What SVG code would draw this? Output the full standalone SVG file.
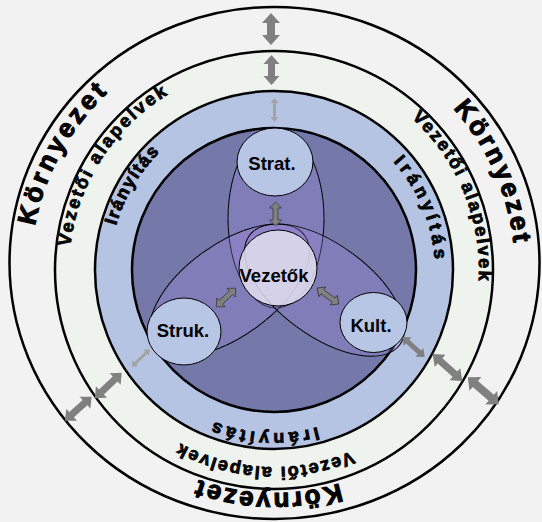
<svg xmlns="http://www.w3.org/2000/svg" width="542" height="522" viewBox="0 0 542 522">
<style>
.ring{stroke:#000;stroke-width:2.5}
.petal{fill:#a087dc;fill-opacity:0.3;stroke:#000;stroke-width:1}
.node{fill:#b8c6e6;stroke:#000;stroke-width:1}
.lead{fill:#e2dfee;fill-opacity:0.85;stroke:#000;stroke-width:1}
.lbl{font-family:"Liberation Sans",Arial,Helvetica,sans-serif;font-weight:bold;fill:#000}
.nt{font-size:18.5px;text-anchor:middle}
.env{font-size:26px;stroke:#000;stroke-width:1.1}
.pri{font-size:18px;stroke:#000;stroke-width:0.8}
.ctl{font-size:18px;stroke:#000;stroke-width:0.8}
.arr{fill:#808080}
.arrs{fill:#a3a3a3}
.arri{fill:#808080;stroke:#3a3a3a;stroke-width:0.8}
</style>
<defs>
<path id="pKl" d="M40.4,337 A243,243 0 0 1 207,36.4"/>
<path id="pKr" d="M360.8,45.1 A241,241 0 0 1 498.9,356.8"/>
<path id="pKb" d="M427.4,432.3 A223,223 0 0 1 112,423.1"/>
<path id="pVl" d="M73.5,312.6 A205,205 0 0 1 231.4,69.5"/>
<path id="pVr" d="M353.4,81 A205,205 0 0 1 463,349.4"/>
<path id="pVb" d="M406.1,416.2 A197,197 0 0 1 127.8,402.1"/>
<path id="pIl" d="M114.9,309.7 A164,164 0 0 1 234.3,110.9"/>
<path id="pIr" d="M336.1,121.5 A161,161 0 0 1 422.5,332.1"/>
<path id="pIb" d="M381.6,392.5 A163,163 0 0 1 151.5,377.6"/>
</defs>
<rect width="542" height="522" fill="#f2f2f2"/>
<g id="rings">
<ellipse id="ring-env" class="ring" cx="274.5" cy="263" rx="265" ry="256" fill="#f2f2f2"/>
<circle id="ring-principles" class="ring" cx="274" cy="270" r="219" fill="#eef3ed"/>
<circle id="ring-control" class="ring" cx="274" cy="270" r="179" fill="#b4c4e2"/>
<circle id="ring-core" class="ring" cx="274" cy="270" r="142" fill="#7479aa"/>
</g>
<g id="ring-labels" class="lbl">
<text class="env" letter-spacing="3.5"><textPath href="#pKl" startOffset="50%" text-anchor="middle">Környezet</textPath></text>
<text class="env" letter-spacing="3"><textPath href="#pKr" startOffset="50%" text-anchor="middle">Környezet</textPath></text>
<text class="env" letter-spacing="2.2"><textPath href="#pKb" startOffset="50%" text-anchor="middle">Környezet</textPath></text>
<text class="pri" letter-spacing="2.4"><textPath href="#pVl" startOffset="50%" text-anchor="middle">Vezetői alapelvek</textPath></text>
<text class="pri" letter-spacing="2.1"><textPath href="#pVr" startOffset="50%" text-anchor="middle">Vezetői alapelvek</textPath></text>
<text class="pri" letter-spacing="1.8"><textPath href="#pVb" startOffset="50%" text-anchor="middle">Vezetői alapelvek</textPath></text>
<text class="ctl" letter-spacing="1.5"><textPath href="#pIl" startOffset="50%" text-anchor="middle">Irányítás</textPath></text>
<text class="ctl" letter-spacing="4.2"><textPath href="#pIr" startOffset="50%" text-anchor="middle">Irányítás</textPath></text>
<text class="ctl" letter-spacing="3.9"><textPath href="#pIb" startOffset="50%" text-anchor="middle">Irányítás</textPath></text>
</g>
<g id="petals">
<ellipse class="petal" cx="276" cy="218.5" rx="48" ry="89.5"/>
<ellipse class="petal" cx="229.4" cy="290.1" rx="93" ry="46" transform="rotate(-36 229.4 290.1)"/>
<ellipse class="petal" cx="324.6" cy="290.1" rx="93" ry="46" transform="rotate(36 324.6 290.1)"/>
</g>
<g id="node-strat">
<ellipse class="node" cx="275" cy="162" rx="38" ry="34"/>
<text class="lbl nt" x="272" y="170">Strat.</text>
</g>
<g id="node-struk">
<ellipse class="node" cx="184" cy="331.5" rx="37" ry="33.5"/>
<text class="lbl nt" x="183" y="337">Struk.</text>
</g>
<g id="node-kult">
<ellipse class="node" cx="373.5" cy="322.5" rx="33.5" ry="30"/>
<text class="lbl nt" x="371" y="332">Kult.</text>
</g>
<g id="node-vezetok">
<ellipse class="lead" cx="278" cy="268" rx="39" ry="38"/>
<text class="lbl nt" x="274" y="282">Vezetők</text>
</g>
<g id="connectors">
<path class="arr" transform="translate(271,29) rotate(90)" d="M-16,0 L-6,-9 L-6,-4 L6,-4 L6,-9 L16,0 L6,9 L6,4 L-6,4 L-6,9Z"/>
<path class="arr" transform="translate(271.5,70) rotate(90)" d="M-15,0 L-6,-8 L-6,-3.5 L6,-3.5 L6,-8 L15,0 L6,8 L6,3.5 L-6,3.5 L-6,8Z"/>
<path class="arrs" transform="translate(274.5,110) rotate(90)" d="M-12,0 L-7,-4 L-7,-1.5 L7,-1.5 L7,-4 L12,0 L7,4 L7,1.5 L-7,1.5 L-7,4Z"/>
<path class="arr" transform="translate(413.5,347) rotate(42)" d="M-15,0 L-8,-6 L-8,-2.5 L8,-2.5 L8,-6 L15,0 L8,6 L8,2.5 L-8,2.5 L-8,6Z"/>
<path class="arr" transform="translate(447.5,367.5) rotate(42)" d="M-20,0 L-10,-8 L-10,-3.5 L10,-3.5 L10,-8 L20,0 L10,8 L10,3.5 L-10,3.5 L-10,8Z"/>
<path class="arr" transform="translate(483.3,390.8) rotate(41)" d="M-20.5,0 L-10.5,-9 L-10.5,-4 L10.5,-4 L10.5,-9 L20.5,0 L10.5,9 L10.5,4 L-10.5,4 L-10.5,9Z"/>
<path class="arrs" transform="translate(140.8,358) rotate(-43.6)" d="M-12.6,0 L-7.6,-4 L-7.6,-1.5 L7.6,-1.5 L7.6,-4 L12.6,0 L7.6,4 L7.6,1.5 L-7.6,1.5 L-7.6,4Z"/>
<path class="arr" transform="translate(108.3,385.5) rotate(-43.8)" d="M-18.5,0 L-9.5,-8 L-9.5,-3.5 L9.5,-3.5 L9.5,-8 L18.5,0 L9.5,8 L9.5,3.5 L-9.5,3.5 L-9.5,8Z"/>
<path class="arr" transform="translate(78.3,408.7) rotate(-42)" d="M-18,0 L-9,-8 L-9,-3.5 L9,-3.5 L9,-8 L18,0 L9,8 L9,3.5 L-9,3.5 L-9,8Z"/>
<path class="arri" transform="translate(275.5,214) rotate(90)" d="M-12,0 L-6,-6 L-6,-2.5 L6,-2.5 L6,-6 L12,0 L6,6 L6,2.5 L-6,2.5 L-6,6Z"/>
<path class="arri" transform="translate(226,297.5) rotate(-43.5)" d="M-13.5,0 L-7,-6 L-7,-2.5 L7,-2.5 L7,-6 L13.5,0 L7,6 L7,2.5 L-7,2.5 L-7,6Z"/>
<path class="arri" transform="translate(328,296) rotate(36)" d="M-13.5,0 L-7,-6 L-7,-2.5 L7,-2.5 L7,-6 L13.5,0 L7,6 L7,2.5 L-7,2.5 L-7,6Z"/>
</g>
</svg>
